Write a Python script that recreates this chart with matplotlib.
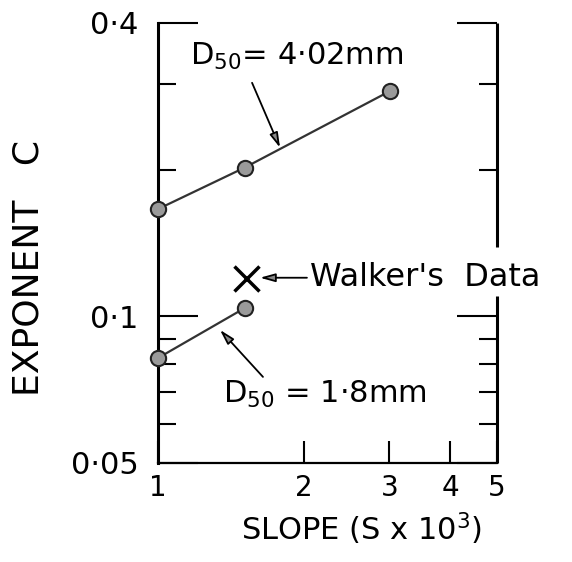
import matplotlib
matplotlib.use('Agg')
import matplotlib.pyplot as plt
from matplotlib.ticker import NullFormatter, NullLocator

# D50 = 4.02 mm
slope_402 = [1.0, 1.51, 3.01]
expc_402 = [0.166, 0.202, 0.290]

# D50 = 1.8 mm
slope_18 = [1.0, 1.51]
expc_18 = [0.0821, 0.104]

# Walker's data
slope_walker = [1.52]
expc_walker = [0.120]

xticks = [1, 2, 3, 4, 5]
xticklabels = ['1', '2', '3', '4', '5']
yticks = [0.05, 0.1, 0.4]
yticklabels = ['0·05', '0·1', '0·4']
yminor = [0.06, 0.07, 0.08, 0.09, 0.2, 0.3]


def main():
    plt.rcParams['font.family'] = ['DejaVu Sans']
    plt.rcParams['mathtext.fontset'] = 'dejavusans'

    fig = plt.figure(figsize=(5.72, 5.62), dpi=100)
    ax = fig.add_axes([0.2762, 0.1762, 0.5927, 0.7829])
    ax.set_xscale('log')
    ax.set_yscale('log')
    ax.set_xlim(1, 5)
    ax.set_ylim(0.05, 0.4)

    #    ticks
    ax.set_xticks(xticks, xticklabels)
    ax.xaxis.set_minor_locator(NullLocator())
    ax.set_yticks(yticks, yticklabels)
    ax.set_yticks(yminor, minor=True)
    ax.yaxis.set_minor_formatter(NullFormatter())
    ax.tick_params(axis='x', which='major', direction='in', length=16,
                   width=1.5, labelsize=20, pad=8)
    ax.tick_params(axis='y', which='major', direction='in', length=29,
                   width=1.5, labelsize=22, pad=14, right=True)
    ax.tick_params(axis='y', which='minor', direction='in', length=13,
                   width=1.5, right=True)

    #    frame: no top, right side broken where the Walker label passes
    ax.spines['top'].set_visible(False)
    ax.spines['right'].set_visible(False)
    ax.spines['left'].set_linewidth(2.2)
    ax.spines['bottom'].set_linewidth(1.6)
    for y0, y1 in [(0.0, 0.3795), (0.4916, 1.0)]:
        ax.plot([1, 1], [y0, y1], transform=ax.transAxes, color='k',
                lw=2.2, clip_on=False, solid_capstyle='butt')

    #    data
    ax.plot(slope_402, expc_402, '-o', color='#333333', lw=1.6,
            ms=11, mfc='#9a9a9a', mec='#222222', mew=1.5, clip_on=False, zorder=5)
    ax.plot(slope_18, expc_18, '-o', color='#333333', lw=1.6,
            ms=11, mfc='#9a9a9a', mec='#222222', mew=1.5, clip_on=False, zorder=5)
    ax.plot(slope_walker, expc_walker, 'x', color='k', ms=18, mew=2.5, zorder=5)

    arrow = dict(arrowstyle='-|>,head_length=0.9,head_width=0.25',
                 color='k', lw=1.3, fc='#888888', shrinkA=0, shrinkB=0)

    #    labels with arrows
    ax.text(1.164, 0.328, r'D$_{50}$= 4·02mm', fontsize=22,
            ha='left', va='baseline')
    ax.annotate('', xy=(1.785, 0.2218), xytext=(1.563, 0.3015), arrowprops=arrow)

    ax.text(1.361, 0.0664, r'D$_{50}$ = 1·8mm', fontsize=22,
            ha='left', va='baseline')
    ax.annotate('', xy=(1.342, 0.0938), xytext=(1.646, 0.0751), arrowprops=arrow)

    ax.text(2.058, 0.1155, "Walker's  Data", fontsize=23,
            ha='left', va='baseline', clip_on=False)
    ax.annotate('', xy=(1.623, 0.120), xytext=(2.028, 0.120), arrowprops=arrow)

    #    axis titles
    fig.text(0.050, 0.523, 'EXPONENT   C', rotation=90, fontsize=26,
             ha='center', va='center')
    fig.text(0.632, 0.0391, r'SLOPE (S x 10$^3$)', fontsize=22,
             ha='center', va='baseline')

    fig.savefig('out.png', dpi=100)


if __name__ == '__main__':
    main()
